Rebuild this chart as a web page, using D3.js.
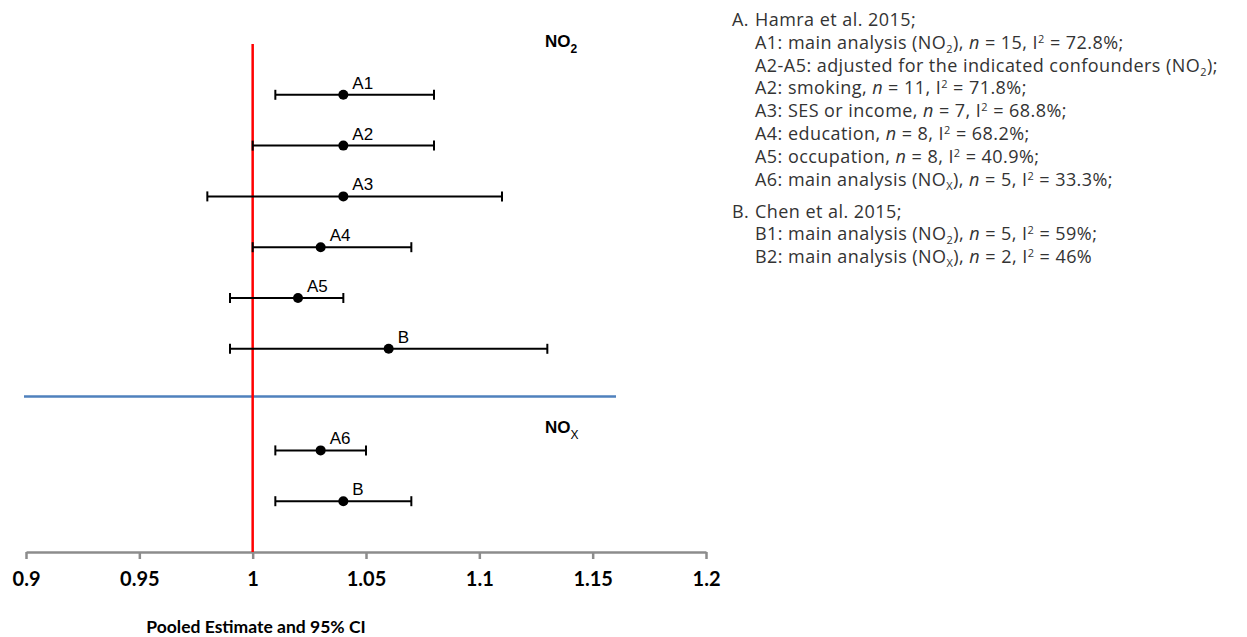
<!DOCTYPE html>
<html>
<head>
<meta charset="utf-8">
<script src="https://cdn.jsdelivr.net/npm/d3@7"></script>
<style>
  html, body { margin: 0; padding: 0; background: #fff; }
  svg { display: block; }
</style>
</head>
<body>
<svg id="chart" width="1247" height="637"></svg>
<script>
// ---- data ----
const rowIds     = ["A1", "A2", "A3", "A4", "A5", "B-NO2", "A6", "B-NOx"];
const rowLabels  = ["A1", "A2", "A3", "A4", "A5", "B", "A6", "B"];
const estimates  = [1.04, 1.04, 1.04, 1.03, 1.02, 1.06, 1.03, 1.04];
const lowerCI    = [1.01, 1.00, 0.98, 1.00, 0.99, 0.99, 1.01, 1.01];
const upperCI    = [1.08, 1.08, 1.11, 1.07, 1.04, 1.13, 1.05, 1.07];
const xTicks     = [0.9, 0.95, 1, 1.05, 1.1, 1.15, 1.2];
const yDomain    = ["top", "A1", "A2", "A3", "A4", "A5", "B-NO2", "sep", "A6", "B-NOx", "axis"];
const refValue   = 1;
const xTitle     = "Pooled Estimate and 95% CI";
const legendLines = [
  {indent: 0, marker: "A.", parts: [["Hamra et al. 2015;"]]},
  {indent: 1, parts: [["A1: main analysis (NO"], ["2", "sub"], ["), "], ["n", "it"], [" = 15, I"], ["2", "sup"], [" = 72.8%;"]]},
  {indent: 1, parts: [["A2-A5: adjusted for the indicated confounders (NO"], ["2", "sub"], [");"]]},
  {indent: 1, parts: [["A2: smoking, "], ["n", "it"], [" = 11, I"], ["2", "sup"], [" = 71.8%;"]]},
  {indent: 1, parts: [["A3: SES or income, "], ["n", "it"], [" = 7, I"], ["2", "sup"], [" = 68.8%;"]]},
  {indent: 1, parts: [["A4: education, "], ["n", "it"], [" = 8, I"], ["2", "sup"], [" = 68.2%;"]]},
  {indent: 1, parts: [["A5: occupation, "], ["n", "it"], [" = 8, I"], ["2", "sup"], [" = 40.9%;"]]},
  {indent: 1, parts: [["A6: main analysis (NO"], ["X", "sub"], ["), "], ["n", "it"], [" = 5, I"], ["2", "sup"], [" = 33.3%;"]]},
  {indent: 0, gap: true, marker: "B.", parts: [["Chen et al. 2015;"]]},
  {indent: 1, parts: [["B1: main analysis (NO"], ["2", "sub"], ["), "], ["n", "it"], [" = 5, I"], ["2", "sup"], [" = 59%;"]]},
  {indent: 1, parts: [["B2: main analysis (NO"], ["X", "sub"], ["), "], ["n", "it"], [" = 2, I"], ["2", "sup"], [" = 46%"]]}
];

// ---- scales ----
const svg = d3.select("#chart");
const x = d3.scaleLinear().domain([0.9, 1.2]).range([26, 706]);
const y = d3.scalePoint().domain(yDomain).range([44, 552]);

const rows = rowIds.map((id, i) => ({
  id, label: rowLabels[i], est: estimates[i], lo: lowerCI[i], hi: upperCI[i]
}));

// separator (blue) line
svg.append("line")
  .attr("x1", 24).attr("x2", 616)
  .attr("y1", y("sep") - 3).attr("y2", y("sep") - 3)
  .attr("stroke", "#4f81bd").attr("stroke-width", 2.5);

// x axis
const axis = d3.axisBottom(x)
  .tickValues(xTicks)
  .tickFormat(d => String(d))
  .tickSize(7)
  .tickSizeOuter(0)
  .tickPadding(13);
const gAxis = svg.append("g")
  .attr("transform", `translate(0,${y("axis")})`)
  .call(axis);
gAxis.select(".domain").attr("stroke", "#8c8c8c").attr("stroke-width", 2.5);
gAxis.selectAll(".tick line").attr("stroke", "#8c8c8c").attr("stroke-width", 2.5);
gAxis.selectAll(".tick text")
  .attr("fill", "#000")
  .style("font-family", "Lato, 'Open Sans', sans-serif")
  .style("font-weight", "700")
  .style("font-size", "20px");

// reference line
svg.append("line")
  .attr("x1", x(refValue)).attr("x2", x(refValue))
  .attr("y1", y("top")).attr("y2", y("axis"))
  .attr("stroke", "#ff0000").attr("stroke-width", 2.5);

// error bars
const g = svg.append("g");
const rowG = g.selectAll("g.row").data(rows).join("g").attr("class", "row")
  .attr("transform", d => `translate(0,${y(d.id)})`);
rowG.append("line")
  .attr("x1", d => x(d.lo)).attr("x2", d => x(d.hi))
  .attr("y1", 0).attr("y2", 0)
  .attr("stroke", "#000").attr("stroke-width", 2);
rowG.append("line")
  .attr("x1", d => x(d.lo)).attr("x2", d => x(d.lo))
  .attr("y1", -5).attr("y2", 5)
  .attr("stroke", "#000").attr("stroke-width", 2);
rowG.append("line")
  .attr("x1", d => x(d.hi)).attr("x2", d => x(d.hi))
  .attr("y1", -5).attr("y2", 5)
  .attr("stroke", "#000").attr("stroke-width", 2);
rowG.append("circle")
  .attr("cx", d => x(d.est)).attr("cy", 0).attr("r", 5)
  .attr("fill", "#000");
rowG.append("text")
  .attr("x", d => x(d.est) + 9).attr("y", -6)
  .style("font-family", "'Liberation Sans', Arial, sans-serif")
  .style("font-size", "17px")
  .attr("fill", "#000")
  .text(d => d.label);

// group labels NO2 / NOx
function groupLabel(yPos, sub) {
  const t = svg.append("text")
    .attr("x", 545).attr("y", yPos)
    .style("font-family", "'Liberation Sans', Arial, sans-serif")
    .style("font-weight", "700")
    .style("font-size", "17px")
    .attr("fill", "#000");
  t.append("tspan").text("NO");
  t.append("tspan").attr("dy", 6).style("font-size", "12px")
    .style("font-weight", sub === "2" ? "700" : "400").text(sub);
}
groupLabel(y("top") + 3, "2");
groupLabel(y("sep") + 33, "X");

// x axis title
svg.append("text")
  .attr("x", 256).attr("y", 633)
  .attr("text-anchor", "middle")
  .style("font-family", "Lato, 'Open Sans', sans-serif")
  .style("font-weight", "700")
  .style("font-size", "17.5px")
  .attr("fill", "#000")
  .text(xTitle);

// legend / notes
const legend = svg.append("g")
  .style("font-family", "'Open Sans', Lato, sans-serif")
  .style("font-weight", "400")
  .style("font-size", "18px")
  .style("letter-spacing", "0.45px")
  .attr("fill", "#333");
let ly = 26;
legendLines.forEach((ln, i) => {
  if (i > 0) ly += ln.gap ? 32 : 22.8;
  if (ln.marker) {
    legend.append("text").attr("x", 732).attr("y", ly).text(ln.marker);
  }
  const t = legend.append("text")
    .attr("x", 755)
    .attr("y", ly);
  let shift = 0;
  ln.parts.forEach(([s, kind]) => {
    const ts = t.append("tspan").text(s);
    let target = 0;
    if (kind === "sub") { target = 4; ts.style("font-size", "11px"); }
    else if (kind === "sup") { target = -6; ts.style("font-size", "11px"); }
    else if (kind === "it") { ts.style("font-style", "italic"); }
    if (target - shift !== 0) ts.attr("dy", target - shift);
    shift = target;
  });
});
</script>
</body>
</html>
